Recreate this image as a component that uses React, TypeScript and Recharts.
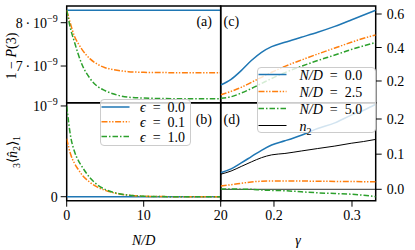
import React from 'react';
import { LineChart, Line, XAxis, YAxis, ReferenceArea, ReferenceLine, Legend } from 'recharts';

const W = 415;
const H = 250;
// no serif faces in the sandbox, Liberation resolves to its sans metrics
const FONT = "'Liberation Serif', 'Liberation Sans', sans-serif";
const BLUE = '#1f77b4';
const ORANGE = '#ff7f0e';
const GREEN = '#2ca02c';
const DASH_ORANGE = '6 1.6 1.4 1.6 1.4 1.6';
const DASH_GREEN = '5.5 2 1.5 2';

// ---- left column: sweep over N/D ----
const nd = [0, 0.5, 1, 1.5, 2, 3, 4, 5, 6, 7, 8, 10, 12, 15, 20];
// 1 - P(3), units of 1e-9
const pEps00 = [8.29, 8.29, 8.29, 8.29, 8.29, 8.29, 8.29, 8.29, 8.29, 8.29, 8.29, 8.29, 8.29, 8.29, 8.29];
const pEps01 = [8.29, 7.97, 7.69, 7.52, 7.38, 7.17, 7.04, 6.96, 6.92, 6.89, 6.87, 6.855, 6.85, 6.845, 6.845];
const pEps10 = [8.29, 7.86, 7.56, 7.27, 7.03, 6.72, 6.53, 6.43, 6.36, 6.31, 6.28, 6.26, 6.25, 6.245, 6.245];
// 3<n2>1, units of 1e-9
const nEps00 = [0, 0, 0, 0, 0, 0, 0, 0, 0, 0, 0, 0, 0, 0, 0];
const nEps01 = [0.64, 0.47, 0.37, 0.3, 0.24, 0.16, 0.105, 0.07, 0.045, 0.028, 0.017, 0.006, 0.002, 0, 0];
const nEps10 = [1.0, 0.67, 0.5, 0.4, 0.33, 0.21, 0.13, 0.08, 0.05, 0.03, 0.017, 0.005, 0.002, 0, 0];

// ---- right column: sweep over gamma ----
const gamma = [0.1317, 0.145, 0.158, 0.171, 0.184, 0.197, 0.214, 0.235, 0.256, 0.278, 0.299, 0.315, 0.3304];
const cND00 = [0.176, 0.21, 0.262, 0.322, 0.371, 0.405, 0.431, 0.461, 0.491, 0.526, 0.564, 0.594, 0.622];
const cND25 = [0.118, 0.138, 0.162, 0.192, 0.222, 0.252, 0.287, 0.325, 0.361, 0.397, 0.431, 0.455, 0.475];
const cND50 = [0.097, 0.106, 0.128, 0.155, 0.185, 0.215, 0.25, 0.288, 0.322, 0.355, 0.388, 0.41, 0.43];
const dND00 = [0.047, 0.058, 0.075, 0.093, 0.111, 0.126, 0.138, 0.154, 0.173, 0.189, 0.211, 0.225, 0.242];
const dND25 = [0.0094, 0.013, 0.017, 0.021, 0.023, 0.0235, 0.0236, 0.0235, 0.023, 0.0225, 0.022, 0.0218, 0.0216];
const dND50 = [0.001, 0.0008, 0.0004, 0, -0.002, -0.003, -0.004, -0.007, -0.01, -0.012, -0.014, -0.017, -0.021];
const n2 = [0.043, 0.052, 0.065, 0.078, 0.09, 0.098, 0.102, 0.109, 0.116, 0.123, 0.131, 0.136, 0.142];

const leftData = nd.map((x, i) => ({
  nd: x, p00: pEps00[i], p01: pEps01[i], p10: pEps10[i],
  n00: nEps00[i], n01: nEps01[i], n10: nEps10[i],
}));
const rightData = gamma.map((g, i) => ({
  g, c00: cND00[i], c25: cND25[i], c50: cND50[i],
  d00: dND00[i], d25: dND25[i], d50: dND50[i], n2: n2[i],
}));

const DOM_A: [number, number] = [6.153, 8.386];
const DOM_B: [number, number] = [-0.044, 1.036];
const DOM_C: [number, number] = [0.0704, 0.6478];
const DOM_D: [number, number] = [-0.0324, 0.2464];
const DOM_ND: [number, number] = [0, 20];
const DOM_G: [number, number] = [0.1317, 0.3304];

const txt = { style: { fontFamily: FONT }, fontFamily: FONT, fontSize: 14, fill: '#000' };
const axisCommon = { axisLine: false, tickSize: 6, stroke: '#000', allowDataOverflow: true, interval: 0 as const };

function SciTick({ x, y, payload }: any) {
  return (
    <text x={x} y={y} dy={5} textAnchor="end" {...txt}>
      {payload.value}{'\u2009·\u2009'}10<tspan dy={-6} fontSize={10}>−9</tspan>
    </text>
  );
}

function TinyTick({ x, y, payload }: any) {
  if (payload.value === 0) {
    return <text x={x} y={y} dy={5} textAnchor="end" {...txt}>0</text>;
  }
  return (
    <text x={x} y={y} dy={5} textAnchor="end" {...txt}>
      10<tspan dy={-6} fontSize={10}>−9</tspan>
    </text>
  );
}

function PlainTick({ x, y, payload, textAnchor, vertical }: any) {
  const v = payload.value;
  const label = !vertical && (v === 0 || v >= 1) ? String(v) : v.toFixed(1);
  return (
    <text x={x} y={y} dy={vertical ? 5 : 10} textAnchor={textAnchor} {...txt}>{label}</text>
  );
}

function MathLabel({ name }: { name: string }) {
  if (name.startsWith('N/D')) {
    return <><tspan fontStyle="italic">N/D</tspan>{'\u2002=\u2002' + name.split('=')[1].trim()}</>;
  }
  if (name.startsWith('ϵ')) {
    return <><tspan fontStyle="italic">ϵ</tspan>{'\u2002=\u2002' + name.split('=')[1].trim()}</>;
  }
  return <><tspan fontStyle="italic">n</tspan><tspan fontSize={10} dy={4}>2</tspan></>;
}

function LegendBox({ payload, width, height, firstY, rowH, textX }: any) {
  return (
    <div style={{
      width, height, boxSizing: 'border-box', border: '1px solid #cccccc', borderRadius: 4,
      background: 'rgba(255,255,255,0.8)', position: 'relative',
    }}>
      <svg width={width} height={height} style={{ position: 'absolute', left: -1, top: -1, overflow: 'visible' }}>
        {(payload || []).map((e: any, i: number) => {
          const y = firstY + i * rowH;
          const p = e.payload || {};
          return (
            <g key={i}>
              <line x1={1.5} x2={29.5} y1={y} y2={y} stroke={e.color}
                strokeWidth={p.strokeWidth || 1.5} strokeDasharray={p.strokeDasharray} />
              <text x={textX} y={y + 5} {...txt}><MathLabel name={String(e.value)} /></text>
            </g>
          );
        })}
      </svg>
    </div>
  );
}

const lineCommon = { type: 'monotone' as const, dot: false, isAnimationActive: false, strokeWidth: 1.5, activeDot: false };
const layer: React.CSSProperties = { position: 'absolute', left: 0, top: 0 };

export default function App() {
  return (
    <div style={{ position: 'absolute', left: 0, top: 0, width: W, height: H, background: '#fff', fontFamily: FONT }}>
      {/* (a) 1 - P(3) vs N/D */}
      <div style={layer}>
        <LineChart width={W} height={H} data={leftData} margin={{ top: 6, right: 194.3, bottom: 147.3, left: 6.7 }}>
          <XAxis dataKey="nd" type="number" domain={DOM_ND} hide allowDataOverflow />
          <YAxis type="number" domain={DOM_A} ticks={[7, 8]} width={60} tickMargin={3} tick={<SciTick />} {...axisCommon} />
          <ReferenceArea x1={DOM_ND[0]} x2={DOM_ND[1]} y1={DOM_A[0]} y2={DOM_A[1]} fill="none" stroke="#000" strokeWidth={1.5} ifOverflow="visible" />
          <Line dataKey="p00" stroke={BLUE} {...lineCommon} />
          <Line dataKey="p01" stroke={ORANGE} strokeDasharray={DASH_ORANGE} {...lineCommon} />
          <Line dataKey="p10" stroke={GREEN} strokeDasharray={DASH_GREEN} {...lineCommon} />
          <text x={212} y={25.5} textAnchor="end" {...txt}>(a)</text>
          <text transform="translate(15.5,56) rotate(-90)" textAnchor="middle" {...txt}>
            1 − <tspan fontStyle="italic">P</tspan>(3)
          </text>
        </LineChart>
      </div>

      {/* (c) vs gamma */}
      <div style={layer}>
        <LineChart width={W} height={H} data={rightData} margin={{ top: 6, right: 0.3, bottom: 147.3, left: 220.7 }}>
          <XAxis dataKey="g" type="number" domain={DOM_G} hide allowDataOverflow />
          <YAxis type="number" orientation="right" domain={DOM_C} ticks={[0.2, 0.4, 0.6]} width={39} tickMargin={5}
            tick={<PlainTick vertical />} {...axisCommon} />
          <ReferenceArea x1={DOM_G[0]} x2={DOM_G[1]} y1={DOM_C[0]} y2={DOM_C[1]} fill="none" stroke="#000" strokeWidth={1.5} ifOverflow="visible" />
          <Line dataKey="c00" stroke={BLUE} {...lineCommon} />
          <Line dataKey="c25" stroke={ORANGE} strokeDasharray={DASH_ORANGE} {...lineCommon} />
          <Line dataKey="c50" stroke={GREEN} strokeDasharray={DASH_GREEN} {...lineCommon} />
          <text x={223.5} y={25.5} {...txt}>(c)</text>
        </LineChart>
      </div>

      {/* (b) 3<n2>1 vs N/D */}
      <div style={layer}>
        <LineChart width={W} height={H} data={leftData} margin={{ top: 102.7, right: 194.3, bottom: 19.3, left: 6.7 }}>
          <XAxis dataKey="nd" type="number" domain={DOM_ND} ticks={[0, 10, 20]} height={30} tickMargin={3}
            tick={<PlainTick vertical={false} />} {...axisCommon} />
          <YAxis type="number" domain={DOM_B} ticks={[0, 1]} width={60} tickMargin={3} tick={<TinyTick />} {...axisCommon} />
          <ReferenceArea x1={DOM_ND[0]} x2={DOM_ND[1]} y1={DOM_B[0]} y2={DOM_B[1]} fill="none" stroke="#000" strokeWidth={1.5} ifOverflow="visible" />
          <Line dataKey="n00" name="ϵ = 0.0" stroke={BLUE} {...lineCommon} />
          <Line dataKey="n01" name="ϵ = 0.1" stroke={ORANGE} strokeDasharray={DASH_ORANGE} {...lineCommon} />
          <Line dataKey="n10" name="ϵ = 1.0" stroke={GREEN} strokeDasharray={DASH_GREEN} {...lineCommon} />
          <text x={212} y={124} textAnchor="end" {...txt}>(b)</text>
          <text transform="translate(16.5,152) rotate(-90)" textAnchor="middle" {...txt}>
            <tspan fontSize={10} dy={3}>3</tspan>
            <tspan dy={-3}>⟨</tspan>
            <tspan fontStyle="italic">n̂</tspan>
            <tspan fontSize={10} dy={3}>2</tspan>
            <tspan dy={-3}>⟩</tspan>
            <tspan fontSize={10} dy={3}>1</tspan>
          </text>
          <text x={143.7} y={245} textAnchor="middle" fontStyle="italic" {...txt}>N/D</text>
          <Legend layout="horizontal" verticalAlign="middle" align="center"
            wrapperStyle={{ left: 100, top: 99, width: 91, height: 47 }}
            content={(p: any) => <LegendBox payload={p.payload} width={91} height={47} firstY={8} rowH={14.8} textX={40} />} />
        </LineChart>
      </div>

      {/* (d) vs gamma */}
      <div style={layer}>
        <LineChart width={W} height={H} data={rightData} margin={{ top: 102.7, right: 0.3, bottom: 19.3, left: 220.7 }}>
          <XAxis dataKey="g" type="number" domain={DOM_G} ticks={[0.2, 0.3]} height={30} tickMargin={3}
            tick={<PlainTick vertical={false} />} {...axisCommon} />
          <YAxis type="number" orientation="right" domain={DOM_D} ticks={[0, 0.1, 0.2]} width={39} tickMargin={5}
            tick={<PlainTick vertical />} {...axisCommon} />
          <ReferenceArea x1={DOM_G[0]} x2={DOM_G[1]} y1={DOM_D[0]} y2={DOM_D[1]} fill="none" stroke="#000" strokeWidth={1.5} ifOverflow="visible" />
          <ReferenceLine y={0} stroke="#000" strokeWidth={0.8} />
          <Line dataKey="d00" name="N/D = 0.0" stroke={BLUE} {...lineCommon} />
          <Line dataKey="d25" name="N/D = 2.5" stroke={ORANGE} strokeDasharray={DASH_ORANGE} {...lineCommon} />
          <Line dataKey="d50" name="N/D = 5.0" stroke={GREEN} strokeDasharray={DASH_GREEN} {...lineCommon} />
          <Line dataKey="n2" name="n₂" stroke="#000" {...lineCommon} strokeWidth={1} />
          <text x={223.5} y={124} {...txt}>(d)</text>
          <text x={298} y={245} textAnchor="middle" fontStyle="italic" {...txt}>γ</text>
          <Legend layout="horizontal" verticalAlign="middle" align="center"
            wrapperStyle={{ left: 257.3, top: 66.7, width: 119, height: 66 }}
            content={(p: any) => <LegendBox payload={p.payload} width={119} height={66} firstY={7.5} rowH={17} textX={42.5} />} />
        </LineChart>
      </div>
    </div>
  );
}
